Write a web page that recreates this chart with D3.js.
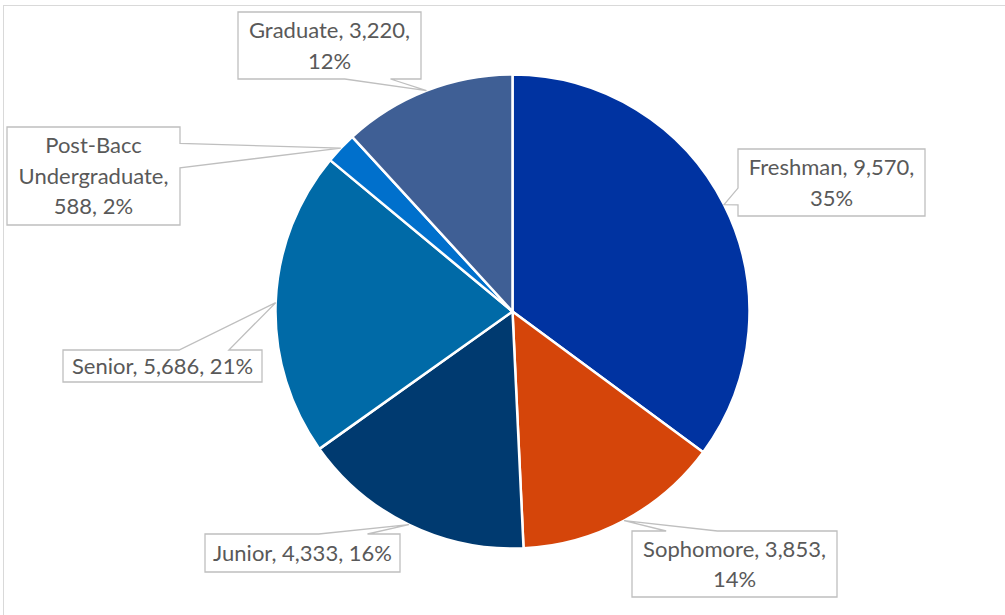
<!DOCTYPE html>
<html>
<head>
<meta charset="utf-8">
<script src="https://cdn.jsdelivr.net/npm/d3@7"></script>
<style>
  html, body { margin: 0; padding: 0; background: #fff; }
  svg { display: block; }
</style>
</head>
<body>
<svg id="chart" width="1005" height="615"></svg>
<script>
// ---- data ----
const categories = ["Freshman", "Sophomore", "Junior", "Senior", "Post-Bacc Undergraduate", "Graduate"];
const values = [9570, 3853, 4333, 5686, 588, 3220];
const percentLabels = ["35%", "14%", "16%", "21%", "2%", "12%"];
// label text lines as displayed
const labelLines = [
  ["Freshman, 9,570,", "35%"],
  ["Sophomore, 3,853,", "14%"],
  ["Junior, 4,333, 16%"],
  ["Senior, 5,686, 21%"],
  ["Post-Bacc", "Undergraduate,", "588, 2%"],
  ["Graduate, 3,220,", "12%"]
];

// ---- styles / layout ----
const colors = ["#0033A1", "#D5450A", "#003A70", "#006AA7", "#0070CC", "#3F5F95"];
// callout boxes [x, y, w, h]
const labelBoxes = [
  [738, 149, 187, 67],
  [632, 531, 205, 66],
  [205, 534, 195, 38],
  [63, 350, 199, 32],
  [7, 127, 173, 98],
  [238, 12, 183, 67]
];

const W = 1005, H = 615;
const cx = 512.5, cy = 311.5, R = 237;

const svg = d3.select("#chart");

// chart area border
svg.append("rect")
  .attr("x", 3.5).attr("y", 5.5)
  .attr("width", W + 10).attr("height", H + 10)
  .attr("fill", "#fff").attr("stroke", "#D9D9D9").attr("stroke-width", 1);

const pie = d3.pie().value(d => d).sort(null);
const arcs = pie(values);
const arc = d3.arc().innerRadius(0).outerRadius(R);

const g = svg.append("g").attr("transform", `translate(${cx},${cy})`);
g.selectAll("path.slice")
  .data(arcs)
  .join("path")
  .attr("class", "slice")
  .attr("d", arc)
  .attr("fill", (d, i) => colors[i])
  .attr("stroke", "#fff")
  .attr("stroke-width", 2.5)
  .attr("stroke-linejoin", "round");

// callouts (wedgeRectCallout geometry)
function calloutPath(box, tip) {
  const [x, y, w, h] = box;
  const hc = x + w / 2, vc = y + h / 2;
  const dx = tip[0] - hc, dy = tip[1] - vc;
  const dq = dx * h / w;
  const dz = Math.abs(dy) - Math.abs(dq);
  const x1 = x + w * (dx > 0 ? 7 : 2) / 12, x2 = x + w * (dx > 0 ? 10 : 5) / 12;
  const y1 = y + h * (dy > 0 ? 7 : 2) / 12, y2 = y + h * (dy > 0 ? 10 : 5) / 12;
  const t = tip;
  let p;
  if (dz > 0) {
    if (dy < 0) {
      p = [[x, y], [x1, y], t, [x2, y], [x + w, y], [x + w, y + h], [x, y + h]];
    } else {
      p = [[x, y], [x + w, y], [x + w, y + h], [x2, y + h], t, [x1, y + h], [x, y + h]];
    }
  } else {
    if (dx < 0) {
      p = [[x, y], [x + w, y], [x + w, y + h], [x, y + h], [x, y2], t, [x, y1]];
    } else {
      p = [[x, y], [x + w, y], [x + w, y1], t, [x + w, y2], [x + w, y + h], [x, y + h]];
    }
  }
  return "M" + p.map(q => q[0] + "," + q[1]).join("L") + "Z";
}

const labelsG = svg.append("g");
arcs.forEach((a, i) => {
  const mid = (a.startAngle + a.endAngle) / 2;
  const tip = [cx + R * Math.sin(mid), cy - R * Math.cos(mid)];
  const box = labelBoxes[i];
  labelsG.append("path")
    .attr("d", calloutPath(box, tip))
    .attr("fill", "#fff")
    .attr("stroke", "#BFBFBF")
    .attr("stroke-width", 1.3);
  const lines = labelLines[i];
  const lh = 30.5;
  const bx = box[0] + box[2] / 2, by = box[1] + box[3] / 2;
  const t = labelsG.append("text")
    .attr("text-anchor", "middle")
    .attr("font-family", "Lato, 'Liberation Sans', sans-serif")
    .attr("font-size", 22)
    .attr("fill", "#595959");
  lines.forEach((ln, k) => {
    t.append("tspan")
      .attr("x", bx)
      .attr("y", by + (k - (lines.length - 1) / 2) * lh)
      .attr("dy", "0.36em")
      .text(ln);
  });
});
</script>
</body>
</html>
